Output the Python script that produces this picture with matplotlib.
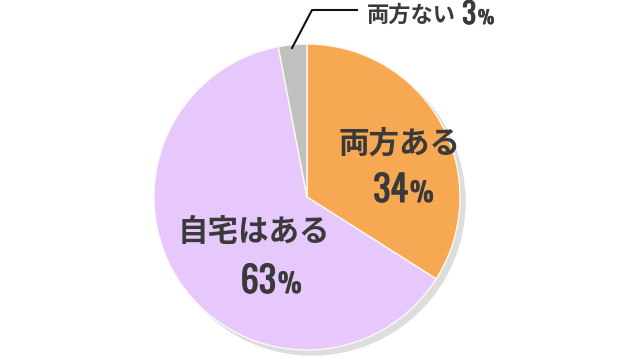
import matplotlib
matplotlib.use("Agg")
import matplotlib.pyplot as plt
from matplotlib.patches import Circle
from matplotlib import font_manager
import matplotlib.patheffects as pe

plt.rcParams['font.family'] = ['Noto Sans CJK JP', 'DejaVu Sans']

labels = ["両方ある", "自宅はある", "両方ない"]
values = [34, 63, 3]
colors = ["#F7A852", "#E6C8FC", "#C0C0BE"]
text_color = "#3A3A3A"

names = {f.name for f in font_manager.fontManager.ttflist}
num_family = 'DejaVu Sans'
for cand in ['Oswald', 'Barlow Condensed', 'Archivo Narrow', 'Asap Condensed']:
    if cand in names:
        num_family = cand
        break

fig = plt.figure(figsize=(6.29, 3.6), dpi=100)
ax = fig.add_axes([0, 0, 1, 1])

cx, cy, r = 307, 163, 153
ax.add_patch(Circle((cx + 5, cy - 5), r, color="#DDDDDD", zorder=0))
ax.pie(values, colors=colors, startangle=90, counterclock=False,
       center=(cx, cy), radius=r, frame=True,
       wedgeprops=dict(edgecolor="#FFF8EE", linewidth=1))
ax.set_xlim(0, 629)
ax.set_ylim(0, 360)
ax.set_aspect('equal')
ax.axis('off')

bold = [pe.withStroke(linewidth=0.7, foreground=text_color)]

def number(xs, yb, val, size, psize):
    ax.text(xs, yb, str(val), ha='right', va='baseline', fontsize=size,
            fontweight='bold', color=text_color, family=num_family,
            path_effects=bold)
    ax.text(xs + 2, yb, "%", ha='left', va='baseline', fontsize=psize,
            fontweight='bold', color=text_color, family=num_family,
            path_effects=bold)

ax.text(399, 216, labels[0], ha='center', va='center', fontsize=22,
        fontweight='bold', color=text_color)
number(408, 158, values[0], 26, 19)

ax.text(254, 128, labels[1], ha='center', va='center', fontsize=22,
        fontweight='bold', color=text_color)
number(276, 67, values[1], 26, 19)

# small slice label with leader
ax.plot([292, 312, 357], [312, 350, 350], color="#111111", lw=1.5)
ax.text(367, 345, labels[2], ha='left', va='center', fontsize=16,
        fontweight='bold', color=text_color)
number(476, 336, values[2], 21, 13)

fig.savefig("out.png", dpi=100)
